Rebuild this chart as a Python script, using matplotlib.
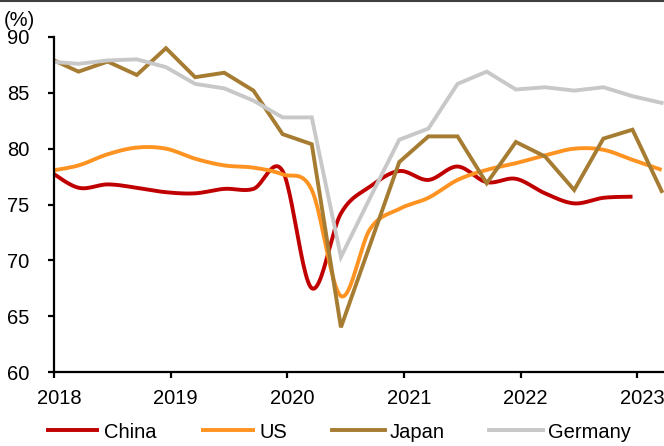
import numpy as np
import matplotlib
matplotlib.use("Agg")
import matplotlib.pyplot as plt
import matplotlib.transforms as mtransforms
from matplotlib.lines import Line2D

plt.rcParams["font.family"] = ["Liberation Sans", "DejaVu Sans"]
plt.rcParams["font.size"] = 14.5

# quarterly capacity utilisation, 2018 Q1 onwards (%)
china = [78.0, 76.5, 76.8, 76.5, 76.1, 76.0, 76.4, 76.4, 78.0, 67.5, 74.2,
         76.6, 78.0, 77.2, 78.4, 77.0, 77.3, 76.0, 75.1, 75.6, 75.7]
us = [78.0, 78.5, 79.5, 80.1, 80.0, 79.1, 78.5, 78.3, 77.7, 76.3, 66.8,
      72.8, 74.6, 75.6, 77.2, 78.1, 78.7, 79.4, 80.0, 79.9, 79.0, 78.1]
japan = [88.1, 86.9, 87.8, 86.6, 89.0, 86.4, 86.8, 85.2, 81.3, 80.4, 64.0,
         71.4, 78.8, 81.1, 81.1, 76.9, 80.6, 79.3, 76.3, 80.9, 81.7, 76.2]
germany = [87.8, 87.6, 87.9, 88.0, 87.3, 85.8, 85.4, 84.3, 82.8, 82.8, 70.3,
           75.6, 80.8, 81.8, 85.8, 86.9, 85.3, 85.5, 85.2, 85.5, 84.7, 84.1]

years = [2018, 2019, 2020, 2021, 2022, 2023]
yticks = [60, 65, 70, 75, 80, 85, 90]

# observations sit a little before the start of each quarter
start = 2018 - 0.04


def quarters(vals):
    return start + 0.25 * np.arange(len(vals))


def smooth(x, y, n=24):
    # Catmull-Rom style bezier through every point
    pts = np.column_stack([x, y])
    p = np.vstack([pts[0], pts, pts[-1]])
    t = np.linspace(0, 1, n, endpoint=False)[:, None]
    out = []
    for i in range(1, len(p) - 2):
        p0, p1, p2, p3 = p[i - 1], p[i], p[i + 1], p[i + 2]
        c1 = p1 + (p2 - p0) / 6
        c2 = p2 - (p3 - p1) / 6
        out.append((1 - t) ** 3 * p1 + 3 * (1 - t) ** 2 * t * c1
                   + 3 * (1 - t) * t ** 2 * c2 + t ** 3 * p2)
    out.append(pts[-1:])
    res = np.vstack(out)
    return res[:, 0], res[:, 1]


fig = plt.figure(figsize=(6.64, 4.46), dpi=100)
ax = fig.add_axes([54 / 664, 1 - 372 / 446, 1 - 54 / 664, (372 - 37) / 446])

lw = 2.8
xs, ys = smooth(quarters(china), china)
ax.plot(xs, ys, color="#C00000", lw=lw, label="China", solid_capstyle="butt")
xs, ys = smooth(quarters(us), us)
ax.plot(xs, ys, color="#FF9321", lw=lw, label="US", solid_capstyle="butt")
ax.plot(quarters(japan), japan, color="#A67C32", lw=lw, label="Japan",
        solid_joinstyle="miter")
ax.plot(quarters(germany), germany, color="#C8C8C8", lw=lw, label="Germany",
        solid_joinstyle="miter")

ax.set_xlim(2018, 2023.23)
ax.set_ylim(60, 90)
ax.set_xticks(years)
ax.set_xticklabels([str(y) for y in years])
ax.set_yticks(yticks)

for side in ("top", "right"):
    ax.spines[side].set_visible(False)
for side in ("left", "bottom"):
    ax.spines[side].set_linewidth(1.6)
ax.tick_params(axis="both", direction="out", length=4, width=1.6, colors="black")
ax.tick_params(axis="y", pad=13.5)
ax.tick_params(axis="x", pad=8)

# year labels sit slightly right of their ticks
shift = mtransforms.ScaledTranslation(5 / 100, 0, fig.dpi_scale_trans)
for lab in ax.get_xticklabels():
    lab.set_transform(lab.get_transform() + shift)

fig.text(19 / 664, 1 - 21 / 446, "(%)", ha="center", va="center")

ax.legend(loc="center", bbox_to_anchor=(0.5095, 1 - 432 / 446),
          bbox_transform=fig.transFigure, ncol=4, frameon=False,
          handlelength=2.65, handletextpad=0.25, columnspacing=2.2,
          borderpad=0, borderaxespad=0)

fig.add_artist(Line2D([0, 1], [0.998, 0.998], color="#404040", lw=1.5,
                      transform=fig.transFigure))

fig.savefig("out.png", dpi=100)
